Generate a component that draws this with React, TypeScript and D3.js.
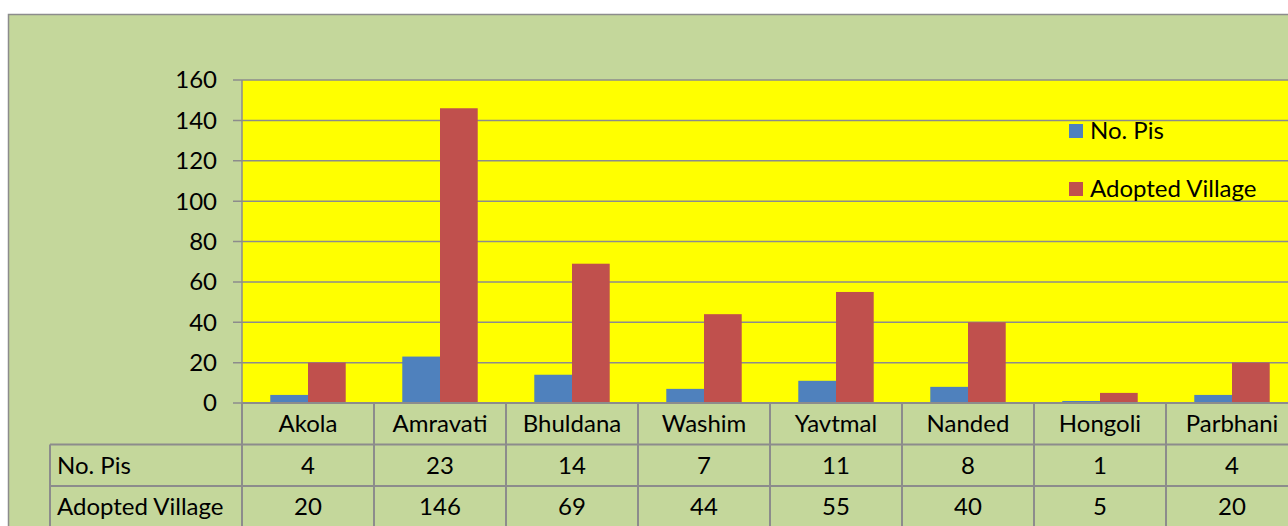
import React from 'react'
import * as d3 from 'd3'

// data
const categories = ['Akola', 'Amravati', 'Bhuldana', 'Washim', 'Yavtmal', 'Nanded', 'Hongoli', 'Parbhani']
const seriesNames = ['No. Pis', 'Adopted Village']
const noPis = [4, 23, 14, 7, 11, 8, 1, 4]
const adoptedVillage = [20, 146, 69, 44, 55, 40, 5, 20]
const yTicks = [0, 20, 40, 60, 80, 100, 120, 140, 160]

const colors = ['#4f81bd', '#c0504d']
const grid = '#8c8c8c'
const font = 'Lato, "Open Sans", sans-serif'
const fs = 24

export default function App() {
  const W = 1288, H = 526
  const left = 242, top = 80, zeroY = 403
  const band = 132
  const rowH = 41.5
  const labelColX = 50

  const x = d3.scaleBand().domain(categories).range([left, left + band * categories.length])
  const x1 = d3.scaleBand().domain(seriesNames).range([0, x.bandwidth()]).paddingInner(0).paddingOuter(0.75)
  const y = d3.scaleLinear().domain([0, 160]).range([zeroY, top])

  const values = [noPis, adoptedVillage]
  const right = left + band * categories.length
  const rows = [zeroY, zeroY + rowH, zeroY + rowH * 2, zeroY + rowH * 3]

  return (
    <svg width={W} height={H} style={{ position: 'absolute', left: 0, top: 0, fontFamily: font }}>
      <rect x={0} y={0} width={W} height={H} fill="#fff" />
      <rect x={8.5} y={14.5} width={W + 20} height={H + 20} fill="#c4d79b" stroke="#8c8c8c" strokeWidth={1.5} />

      {/* plot area */}
      <rect x={left} y={top} width={right - left} height={zeroY - top} fill="#ffff00" />
      {yTicks.map(t => (
        <g key={t}>
          <line x1={left - 9} x2={right} y1={y(t)} y2={y(t)} stroke={grid} strokeWidth={1.5} />
          <text x={217} y={y(t)} dy="0.35em" textAnchor="end" fontSize={fs} fill="#000">{t}</text>
        </g>
      ))}
      <line x1={left} x2={left} y1={top} y2={zeroY} stroke={grid} strokeWidth={1.5} />

      {/* bars */}
      {values.map((vals, si) => vals.map((v, ci) => (
        <rect key={`${si}-${ci}`}
          x={x(categories[ci])! + x1(seriesNames[si])!}
          y={y(v)}
          width={x1.bandwidth()}
          height={zeroY - y(v)}
          fill={colors[si]} />
      )))}

      {/* legend */}
      {seriesNames.map((s, i) => (
        <g key={s} transform={`translate(1069, ${124 + i * 58})`}>
          <rect x={0} y={0} width={14} height={14} fill={colors[i]} />
          <text x={21} y={15} fontSize={fs} fill="#000">{s}</text>
        </g>
      ))}

      {/* data table */}
      <line x1={left} x2={right} y1={zeroY} y2={zeroY} stroke={grid} strokeWidth={2} />
      <line x1={labelColX} x2={right} y1={rows[1]} y2={rows[1]} stroke={grid} strokeWidth={2} />
      <line x1={labelColX} x2={right} y1={rows[2]} y2={rows[2]} stroke={grid} strokeWidth={2} />
      <line x1={labelColX} x2={labelColX} y1={rows[1]} y2={H} stroke={grid} strokeWidth={2} />
      {categories.map(c => (
        <line key={c} x1={x(c)!} x2={x(c)!} y1={zeroY} y2={H} stroke={grid} strokeWidth={2} />
      ))}
      <line x1={right} x2={right} y1={zeroY} y2={H} stroke={grid} strokeWidth={2} />

      {categories.map(c => (
        <text key={c} x={x(c)! + x.bandwidth() / 2} y={(rows[0] + rows[1]) / 2} dy="0.35em"
          textAnchor="middle" fontSize={fs} fill="#000">{c}</text>
      ))}
      {seriesNames.map((s, si) => (
        <g key={s}>
          <text x={57} y={(rows[si + 1] + rows[si + 2]) / 2} dy="0.35em" fontSize={fs} fill="#000">{s}</text>
          {values[si].map((v, ci) => (
            <text key={ci} x={x(categories[ci])! + x.bandwidth() / 2} y={(rows[si + 1] + rows[si + 2]) / 2}
              dy="0.35em" textAnchor="middle" fontSize={fs} fill="#000">{v}</text>
          ))}
        </g>
      ))}
    </svg>
  )
}
